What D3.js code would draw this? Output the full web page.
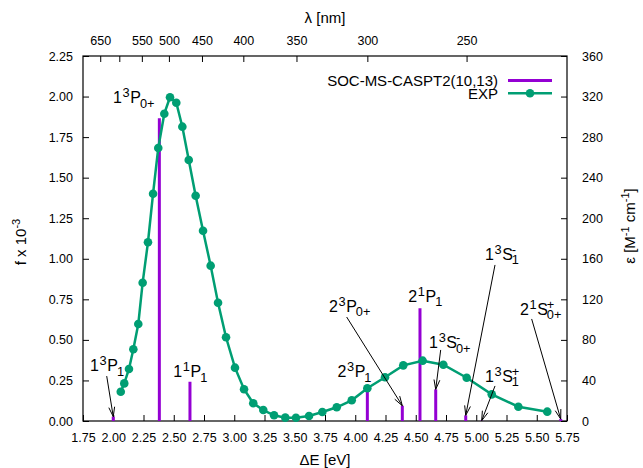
<!DOCTYPE html>
<html>
<head>
<meta charset="utf-8">
<script src="https://cdn.jsdelivr.net/npm/d3@7"></script>
<style>
  body { margin: 0; background: #fff; }
  text { font-family: "Liberation Sans", Arial, sans-serif; fill: #000; }
</style>
</head>
<body>
<div id="chart"></div>
<script>
// experimental spectrum (eV, M^-1 cm^-1)
var expEnergy = [2.062, 2.091, 2.130, 2.166, 2.207, 2.243, 2.287, 2.329, 2.372, 2.422,
                 2.469, 2.521, 2.571, 2.624, 2.681, 2.742, 2.805, 2.866, 2.932, 3.006,
                 3.081, 3.157, 3.240, 3.329, 3.422, 3.510, 3.618, 3.728, 3.847, 3.971,
                 4.100, 4.246, 4.397, 4.557, 4.728, 4.921, 5.128, 5.348, 5.587];
var expEps = [28.9, 37.1, 51.3, 70.7, 95.7, 136.4, 176.3, 224.2, 269.3, 303.1,
              319.3, 313.9, 290.3, 257.4, 222.2, 187.7, 153.2, 116.7, 82.6, 52.6,
              31.3, 17.5, 10.8, 5.6, 3.3, 3.2, 4.9, 8.9, 13.5, 20.4,
              32.3, 43.1, 54.9, 59.5, 55.5, 42.7, 26.3, 14.1, 9.2];

// SOC-MS-CASPT2 oscillator strengths (f x 10^-3)
var socEnergy = [2.000, 2.381, 2.634, 4.100, 4.389, 4.535, 4.665, 4.913, 5.045, 5.698];
var socF = [0.027, 1.866, 0.242, 0.205, 0.094, 0.695, 0.195, 0.035, 0.002, 0.012];

var eTicks = [1.75, 2.00, 2.25, 2.50, 2.75, 3.00, 3.25, 3.50, 3.75, 4.00, 4.25, 4.50, 4.75, 5.00, 5.25, 5.50, 5.75];
var fTicks = [0, 0.25, 0.5, 0.75, 1.0, 1.25, 1.5, 1.75, 2.0, 2.25];
var epsTicks = [0, 40, 80, 120, 160, 200, 240, 280, 320, 360];
var lambdaTicks = [650, 600, 550, 500, 450, 400, 350, 300, 250];
var lambdaHidden = [600];
var hc = 1230; // eV nm used for the top axis

// state labels: [base, superscript, subscript], anchor in data coords
var stateLabels = [
  { parts: [["1", "3", ""], ["P", "", "0+"]], E: 1.998, f: 1.96 },
  { parts: [["1", "3", ""], ["P", "", "1"]], E: 1.808, f: 0.308, from: [1.946, 0.277], to: 0 },
  { parts: [["1", "1", ""], ["P", "", "1"]], E: 2.496, f: 0.271 },
  { parts: [["2", "3", ""], ["P", "", "1"]], E: 3.853, f: 0.271 },
  { parts: [["2", "3", ""], ["P", "", "0+"]], E: 3.783, f: 0.672, from: [3.929, 0.641], to: 4 },
  { parts: [["2", "1", ""], ["P", "", "1"]], E: 4.438, f: 0.734 },
  { parts: [["1", "3", ""], ["S", "-", "0+"]], E: 4.610, f: 0.448, from: [4.706, 0.438], to: 6 },
  { parts: [["1", "3", ""], ["S", "-", "1"]], E: 5.072, f: 0.993, from: [5.155, 0.962], to: 7 },
  { parts: [["1", "3", ""], ["S", "+", "1"]], E: 5.072, f: 0.242, from: [5.155, 0.216], to: 8 },
  { parts: [["2", "1", ""], ["S", "+", "0+"]], E: 5.361, f: 0.654, from: [5.458, 0.629], to: 9 }
];

var W = 643, H = 468;
var plotL = 83, plotR = 567, plotT = 56, plotB = 421;
var purple = "#9400d3", green = "#009e73";

var svg = d3.select("#chart").append("svg")
    .attr("width", W)
    .attr("height", H);

var x = d3.scaleLinear().domain([1.75, 5.75]).range([plotL, plotR]);
var y = d3.scaleLinear().domain([0, 2.25]).range([plotB, plotT]);
var y2 = d3.scaleLinear().domain([0, 360]).range([plotB, plotT]);

function styleAxis(g, size) {
    g.select(".domain").remove();
    g.selectAll(".tick line").attr("stroke", "#000").attr("stroke-width", 1);
    g.selectAll(".tick text").attr("font-size", size).attr("font-family", "Liberation Sans, Arial, sans-serif").attr("fill", "#000");
}

// bottom axis
svg.append("g")
    .attr("transform", "translate(0," + plotB + ")")
    .call(d3.axisBottom(x).tickValues(eTicks).tickFormat(d3.format(".2f")).tickSizeInner(-6).tickSizeOuter(0).tickPadding(12))
    .call(styleAxis, 12.5);

// top axis (wavelength)
svg.append("g")
    .attr("transform", "translate(0," + plotT + ")")
    .call(d3.axisTop(x)
        .tickValues(lambdaTicks.map(function (l) { return hc / l; }))
        .tickFormat(function (e) {
            var l = Math.round(hc / e);
            return lambdaHidden.indexOf(l) >= 0 ? "" : l;
        })
        .tickSizeInner(-6).tickSizeOuter(0).tickPadding(11))
    .call(styleAxis, 12.5);

// left axis
svg.append("g")
    .attr("transform", "translate(" + plotL + ",0)")
    .call(d3.axisLeft(y).tickValues(fTicks).tickFormat(d3.format(".2f")).tickSizeInner(-6).tickSizeOuter(0).tickPadding(10))
    .call(styleAxis, 12.5);

// right axis
svg.append("g")
    .attr("transform", "translate(" + plotR + ",0)")
    .call(d3.axisRight(y2).tickValues(epsTicks).tickSizeInner(-6).tickSizeOuter(0).tickPadding(15))
    .call(styleAxis, 12.5);

// frame
svg.append("rect")
    .attr("x", plotL).attr("y", plotT)
    .attr("width", plotR - plotL).attr("height", plotB - plotT)
    .attr("fill", "none").attr("stroke", "#000").attr("stroke-width", 1.2);

// axis titles
svg.append("text").attr("x", (plotL + plotR) / 2).attr("y", 465)
    .attr("text-anchor", "middle").attr("font-size", 15).text("\u0394E [eV]");
svg.append("text").attr("x", (plotL + plotR) / 2).attr("y", 23)
    .attr("text-anchor", "middle").attr("font-size", 15).text("\u03bb [nm]");

var yt = svg.append("text").attr("transform", "translate(26,242) rotate(-90)")
    .attr("text-anchor", "middle").attr("font-size", 15);
yt.append("tspan").text("f x 10");
yt.append("tspan").attr("font-size", 11).attr("dy", -6).text("-3");

var y2t = svg.append("text").attr("transform", "translate(635,226) rotate(-90)")
    .attr("text-anchor", "middle").attr("font-size", 15);
y2t.append("tspan").text("\u03b5 [M");
y2t.append("tspan").attr("font-size", 11).attr("dy", -6).text("-1");
y2t.append("tspan").attr("dy", 6).text(" cm");
y2t.append("tspan").attr("font-size", 11).attr("dy", -6).text("-1");
y2t.append("tspan").attr("dy", 6).text("]");

// SOC sticks
svg.append("g").selectAll("line")
    .data(socEnergy)
    .enter()
    .append("line")
    .attr("x1", function (d) { return x(d); })
    .attr("x2", function (d) { return x(d); })
    .attr("y1", y(0))
    .attr("y2", function (d, i) { return y(socF[i]); })
    .attr("stroke", purple)
    .attr("stroke-width", 3);

// experimental curve
var line = d3.line()
    .x(function (d, i) { return x(d); })
    .y(function (d, i) { return y2(expEps[i]); });

svg.append("path")
    .datum(expEnergy)
    .attr("d", line)
    .attr("fill", "none")
    .attr("stroke", green)
    .attr("stroke-width", 2.5);

svg.append("g").selectAll("circle")
    .data(expEnergy)
    .enter()
    .append("circle")
    .attr("cx", function (d) { return x(d); })
    .attr("cy", function (d, i) { return y2(expEps[i]); })
    .attr("r", 4.3)
    .attr("fill", green);

// state labels
var fs = 16;
var lab = svg.append("g");

stateLabels.forEach(function (d) {
    var cx = x(d.E), cy = y(d.f);
    d.parts.forEach(function (p) {
        lab.append("text").attr("x", cx).attr("y", cy).attr("font-size", fs)
            .attr("font-family", "Liberation Mono, monospace").attr("fill", "#444").text(p[0]);
        cx += p[0].length * fs * 0.6;
        var w = 0;
        if (p[1]) {
            lab.append("text").attr("x", cx).attr("y", cy - 6).attr("font-size", fs * 0.8)
                .attr("font-family", "Liberation Mono, monospace").attr("fill", "#444").text(p[1]);
            w = p[1].length * fs * 0.48;
        }
        if (p[2]) {
            lab.append("text").attr("x", cx).attr("y", cy + 4.5).attr("font-size", fs * 0.8)
                .attr("font-family", "Liberation Mono, monospace").attr("fill", "#444").text(p[2]);
            w = Math.max(w, p[2].length * fs * 0.48);
        }
        cx += w;
    });

    if (d.from) {
        var x1 = x(d.from[0]), y1 = y(d.from[1]);
        var x2 = x(socEnergy[d.to]), y2p = y(socF[d.to]);
        var ang = Math.atan2(y2p - y1, x2 - x1);
        var hl = 10, ha = 17 * Math.PI / 180;
        lab.append("line").attr("x1", x1).attr("y1", y1).attr("x2", x2).attr("y2", y2p)
            .attr("stroke", "#000").attr("stroke-width", 1);
        [-ha, ha].forEach(function (a) {
            lab.append("line")
                .attr("x1", x2).attr("y1", y2p)
                .attr("x2", x2 - hl * Math.cos(ang + a))
                .attr("y2", y2p - hl * Math.sin(ang + a))
                .attr("stroke", "#000").attr("stroke-width", 1);
        });
    }
});

// legend
var legend = svg.append("g");
legend.append("text").attr("x", 498).attr("y", 86).attr("text-anchor", "end")
    .attr("font-size", 15).text("SOC-MS-CASPT2(10,13)");
legend.append("line").attr("x1", 508).attr("x2", 552).attr("y1", 80.5).attr("y2", 80.5)
    .attr("stroke", purple).attr("stroke-width", 3);
legend.append("text").attr("x", 498).attr("y", 98.5).attr("text-anchor", "end")
    .attr("font-size", 15).text("EXP");
legend.append("line").attr("x1", 508).attr("x2", 552).attr("y1", 93.3).attr("y2", 93.3)
    .attr("stroke", green).attr("stroke-width", 2.5);
legend.append("circle").attr("cx", 530).attr("cy", 93.3).attr("r", 4.3).attr("fill", green);
</script>
</body>
</html>
